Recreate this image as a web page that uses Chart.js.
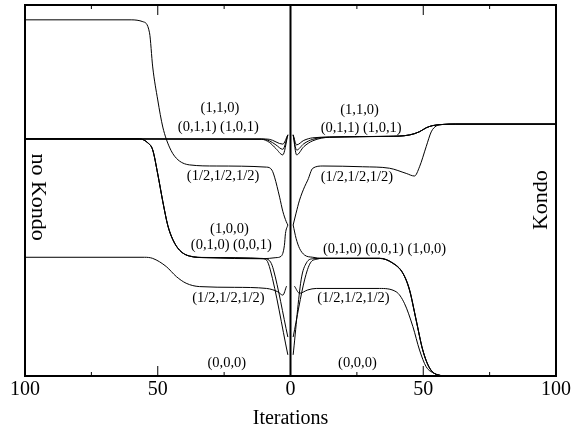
<!DOCTYPE html>
<html>
<head>
<meta charset="utf-8">
<script src="https://cdn.jsdelivr.net/npm/chart.js@4.4.1/dist/chart.umd.min.js"></script>
<style>
  html, body { margin: 0; padding: 0; background: #fff; }
  #wrap { width: 575px; height: 438px; }
</style>
</head>
<body>
<div id="wrap"><canvas id="flowChart" width="575" height="438"></canvas></div>
<script>
// curves as [iteration, value] pairs
// left half = no Kondo, right half = Kondo
const noKondoA = [[1,40.7],[1.6,41.6],[2.9,44.4],[4.1,48.2],[6,53.6],[7,55.5],[9,56.3],[28,56.6],[38,56.9],[43,58.7],[45.6,61.7],[48.1,67.1],[50,74.4],[51.9,83.3],[53.1,92.5],[55.6,95.5],[60,96],[100,96]];
const noKondoB = [[1,40.7],[1.9,38.4],[2.3,35.2],[3.5,32.3],[5.5,31.9],[10.5,31.6],[31.8,31.9],[38,32.3],[41.8,33.9],[44.3,36.7],[46.2,40.5],[48.1,47.0],[50,54.4],[51.9,60.9],[53.7,62.8],[56.9,63.9],[100,63.9]];
const noKondoC = [[1,5.7],[7.6,28.6],[9,31.2],[11,31.7],[31.8,31.9],[38,32.3],[41.8,33.9],[44.3,36.7],[46.2,40.5],[48.1,47.0],[50,54.4],[51.9,60.9],[53.7,62.8],[56.9,63.9],[100,63.9]];
const noKondoD = [[1,10.5],[6.4,28.6],[7.5,30.7],[9.5,31.6],[31.8,31.95],[38,32.35],[41.8,33.95],[44.3,36.8],[46.2,40.6],[48.1,47.1],[50,54.5],[51.9,61.0],[53.7,62.85],[56.9,63.9],[100,63.9]];
const noKondoE = [[1.5,24.2],[2.9,21.8],[4.8,22.7],[9,23.6],[21,23.9],[34.3,24.1],[39.3,25.0],[43,26.8],[46.8,29.5],[51.9,31.7],[55,32.0],[100,32.0]];
const noKondoF = [[1,65.0],[2.9,62.5],[8,63.8],[11,63.9],[100,63.9]];
const noKondoG = [[1,65.0],[2.9,61.1],[5.5,62.3],[8,63.4],[11,63.85],[100,63.9]];
const noKondoH = [[1,65.0],[2.9,59.6],[5.5,61.3],[8,63.0],[11,63.8],[100,63.9]];

const kondoA = [[1,40.7],[2.1,43.9],[3.4,47.4],[5.3,51.0],[6.5,52.8],[8.4,56.0],[12.2,56.6],[27.2,56.4],[37.3,56.0],[43.6,54.6],[46.7,53.9],[48.6,56.4],[51.1,61.8],[53,65.8],[54.9,67.4],[57.4,67.8],[62,67.9],[100,67.9]];
const kondoB = [[1,40.7],[2.1,37.1],[3.4,34.4],[5.3,32.6],[8.4,32.0],[12.2,31.7],[33.5,31.7],[38.5,30.4],[42.3,27.7],[44.8,23.2],[47.3,15.1],[49.8,7.0],[52.4,2.1],[55.5,0.3],[60,0],[100,0]];
const kondoC = [[1,5.7],[4.0,25.9],[6,30.5],[8.5,31.6],[12.2,31.7],[33.5,31.7],[38.5,30.4],[42.3,27.7],[44.8,23.2],[47.3,15.1],[49.8,7.0],[52.4,2.1],[55.5,0.3],[60,0],[100,0]];
const kondoD = [[1,10.5],[5.3,25.9],[7.5,30.5],[10,31.5],[12.2,31.75],[33.5,31.75],[38.5,30.5],[42.3,27.8],[44.8,23.4],[47.3,15.3],[49.8,7.1],[52.4,2.2],[55.5,0.3],[60,0],[100,0]];
const kondoE = [[1.5,24.2],[3.4,22.3],[6.5,23.2],[9.7,23.6],[33.5,23.6],[39.8,22.7],[42.9,19.6],[46.1,13.3],[48.6,7.0],[51.1,2.5],[54.2,0.7],[58,0],[100,0]];
const kondoF = [[1,65.0],[2.3,62.3],[5,63.5],[8.4,64.2],[14.7,64.4],[37,64.6],[44.8,64.97],[48.6,65.85],[51.1,66.9],[53.6,67.5],[57.4,67.8],[62,67.9],[100,67.9]];
const kondoG = [[1,65.0],[2.3,60.9],[5,62.6],[8.4,63.8],[14.7,64.4],[37,64.6],[44.8,64.97],[48.6,65.85],[51.1,66.9],[53.6,67.5],[57.4,67.8],[62,67.9],[100,67.9]];
const kondoH = [[1,65.0],[2.3,59.6],[5,61.8],[8.4,63.4],[14.7,64.35],[37,64.6],[44.8,64.97],[48.6,65.85],[51.1,66.9],[53.6,67.5],[57.4,67.8],[62,67.9],[100,67.9]];

const xTicks = [-100, -50, 0, 50, 100];
const minorTicks = [-75, -25, 25, 75];

// state labels and where they sit (iteration, value)
const stateLabels = ['(1,1,0)', '(0,1,1) (1,0,1)', '(1/2,1/2,1/2)', '(1,0,0)', '(0,1,0) (0,0,1)', '(1/2,1/2,1/2)', '(0,0,0)',
                     '(1,1,0)', '(0,1,1) (1,0,1)', '(1/2,1/2,1/2)', '(0,1,0) (0,0,1) (1,0,0)', '(1/2,1/2,1/2)', '(0,0,0)'];
const labelX = [-26.6, -27.2, -25.4, -23.0, -22.3, -23.4, -24.0, 26.0, 26.6, 25.0, 35.4, 23.7, 25.2];
const labelY = [72.1, 67.2, 53.9, 39.6, 35.3, 20.9, 3.4, 71.7, 66.9, 53.7, 34.2, 21.0, 3.5];

const serif = '"Liberation Serif", "DejaVu Serif", serif';

function leftSide(pts) {
    return pts.map(p => ({ x: -p[0], y: p[1] })).reverse();
}
function rightSide(pts) {
    return pts.map(p => ({ x: p[0], y: p[1] }));
}

const curves = [
    leftSide(noKondoA), leftSide(noKondoB), leftSide(noKondoC), leftSide(noKondoD),
    leftSide(noKondoE), leftSide(noKondoF), leftSide(noKondoG), leftSide(noKondoH),
    rightSide(kondoA), rightSide(kondoB), rightSide(kondoC), rightSide(kondoD),
    rightSide(kondoE), rightSide(kondoF), rightSide(kondoG), rightSide(kondoH)
];

// frame, centre line, inward ticks, text
const decorations = {
    id: 'decorations',
    afterDatasetsDraw(chart) {
        const ctx = chart.ctx;
        const area = chart.chartArea;
        const xs = chart.scales.x;
        const ys = chart.scales.y;
        ctx.save();
        ctx.strokeStyle = '#000';

        ctx.lineWidth = 1;
        ctx.beginPath();
        xTicks.concat(minorTicks).forEach(v => {
            const px = xs.getPixelForValue(v);
            const len = Math.abs(v) === 50 ? 10 : 4;
            ctx.moveTo(px, area.top); ctx.lineTo(px, area.top + len);
            ctx.moveTo(px, area.bottom); ctx.lineTo(px, area.bottom - len);
        });
        ctx.stroke();

        ctx.lineWidth = 2;
        const zx = xs.getPixelForValue(0);
        ctx.beginPath();
        ctx.moveTo(zx, area.top); ctx.lineTo(zx, area.bottom);
        ctx.stroke();
        ctx.strokeRect(area.left, area.top, area.right - area.left, area.bottom - area.top);

        ctx.fillStyle = '#000';
        ctx.textAlign = 'center';
        ctx.textBaseline = 'middle';
        ctx.font = '14.5px ' + serif;
        stateLabels.forEach((t, i) => {
            ctx.fillText(t, xs.getPixelForValue(labelX[i]), ys.getPixelForValue(labelY[i]));
        });

        ctx.font = '22px ' + serif;
        ctx.save();
        ctx.translate(area.left + 13, ys.getPixelForValue(48.2));
        ctx.rotate(Math.PI / 2);
        ctx.fillText('no Kondo', 0, 0);
        ctx.restore();
        ctx.save();
        ctx.translate(area.right - 15, ys.getPixelForValue(47.4));
        ctx.rotate(-Math.PI / 2);
        ctx.fillText('Kondo', 0, 0);
        ctx.restore();
        ctx.restore();
    }
};

const ctx = document.getElementById('flowChart').getContext('2d');
new Chart(ctx, {
    type: 'line',
    data: {
        datasets: curves.map(c => ({
            data: c,
            borderColor: '#000',
            borderWidth: 1,
            pointRadius: 0,
            fill: false,
            cubicInterpolationMode: 'monotone'
        }))
    },
    options: {
        responsive: false,
        animation: false,
        devicePixelRatio: 1,
        layout: { padding: { left: 25, right: 19, top: 5, bottom: 0 } },
        plugins: { legend: { display: false }, tooltip: { enabled: false } },
        scales: {
            x: {
                type: 'linear',
                min: -100,
                max: 100,
                grid: { display: false, drawTicks: false },
                border: { display: false },
                afterBuildTicks(scale) { scale.ticks = xTicks.map(v => ({ value: v })); },
                afterFit(scale) { scale.height = 62; },
                ticks: {
                    padding: 2,
                    maxRotation: 0,
                    color: '#000',
                    font: { family: serif, size: 20 },
                    callback: v => String(Math.abs(v))
                },
                title: {
                    display: true,
                    text: 'Iterations',
                    color: '#000',
                    font: { family: serif, size: 20 },
                    padding: { top: 0, bottom: 7 }
                }
            },
            y: {
                type: 'linear',
                min: 0,
                max: 100,
                display: false
            }
        }
    },
    plugins: [decorations]
});
</script>
</body>
</html>
